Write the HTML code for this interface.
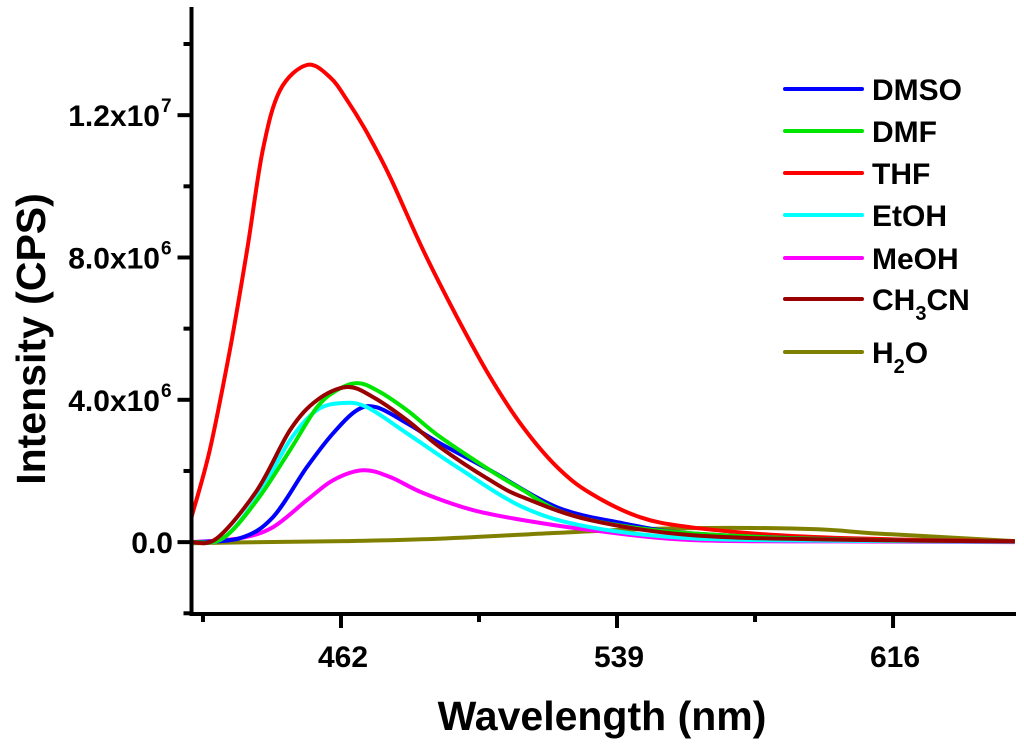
<!DOCTYPE html>
<html><head><meta charset="utf-8"><style>
html,body{margin:0;padding:0;background:#fff;}
svg text{font-family:"Liberation Sans",Arial,sans-serif;font-weight:bold;fill:#000;}
</style></head><body>
<svg id="chart" width="1024" height="742" viewBox="0 0 1024 742" xmlns="http://www.w3.org/2000/svg">
<g id="series"></g>
<g id="axes"></g>
<g id="legend"></g>
</svg>
<script>
const xTicks=[462,539,616];
const xMinorTicks=[423.5,500.5,577.5];
const yTicks=[0,4,8,12];
const yTickLabels=[["0.0",""],["4.0x10","6"],["8.0x10","6"],["1.2x10","7"]];
const yMinorTicks=[-2,2,6,10,14];
const seriesNames=["DMSO","DMF","THF","EtOH","MeOH","CH3CN","H2O"];
const seriesColors=["#0000ff","#00e600","#ff0000","#00ffff","#ff00ff","#990000","#808000"];
const dmsoX=[420,433.8,443.0,452.5,459.8,466.5,472.0,480.4,489.6,503.6,522.3,540.7,559.4,600,650];
const dmsoY=[0,0.11,0.70,2.11,3.06,3.71,3.79,3.34,2.78,2.02,0.98,0.53,0.25,0.08,0.02];
const dmfX=[420,429.1,438.6,447.8,455.3,460.9,466.5,472.0,480.4,489.6,503.6,512.8,522.3,536.2,559.4,600,650];
const dmfY=[0,0.11,1.18,2.59,3.79,4.27,4.47,4.27,3.71,2.96,2.02,1.46,0.90,0.53,0.25,0.08,0.02];
const thfX=[420,425.4,431.0,435.8,440.2,445.0,452.5,458.9,463.7,469.3,475.7,484.9,494.4,503.6,512.8,522.3,531.5,545.4,559.4,580,600,625,650];
const thfY=[0.70,2.59,5.40,8.21,11.02,12.70,13.41,13.07,12.42,11.50,10.26,8.21,6.32,4.64,3.23,2.11,1.38,0.70,0.42,0.22,0.12,0.06,0.03];
const etohX=[420,429.1,438.6,447.8,455.3,462.6,469.3,480.4,494.4,512.8,531.5,559.4,600,650];
const etohY=[0,0.11,1.26,2.87,3.71,3.91,3.79,3.06,2.11,0.98,0.42,0.11,0.04,0.01];
const meohX=[420,433.8,443.0,452.5,459.8,468.1,475.7,484.9,498.8,512.8,531.5,559.4,600,650];
const meohY=[0,0.11,0.42,1.18,1.74,2.02,1.83,1.38,0.90,0.62,0.34,0.06,0.02,0];
const mecnX=[420,427.4,438.6,447.8,455.3,463.7,470.9,480.4,489.6,503.6,512.8,531.5,559.4,600,650];
const mecnY=[0,0.11,1.46,3.15,3.99,4.36,4.08,3.43,2.67,1.74,1.26,0.62,0.20,0.07,0.02];
const waterX=[420,440,464,490,520,545,570,595,610,630,650];
const waterY=[-0.03,0,0.03,0.1,0.25,0.36,0.4,0.36,0.25,0.14,0.03];
const allX=[dmsoX,dmfX,thfX,etohX,meohX,mecnX,waterX];
const allY=[dmsoY,dmfY,thfY,etohY,meohY,mecnY,waterY];
const NS="http://www.w3.org/2000/svg";
const X0=191.5,X1=1016,Y0=7,Y1=614,xmin=420.3,xmax=650.3,ymin=-2.02,ymax=15.04;
function sx(v){return X0+(v-xmin)/(xmax-xmin)*(X1-X0);}
function sy(v){return Y1-(v-ymin)/(ymax-ymin)*(Y1-Y0);}
function mk(tag,attrs,parent){const e=document.createElementNS(NS,tag);for(const k in attrs)e.setAttribute(k,attrs[k]);parent.appendChild(e);return e;}
function pathFor(xs,ys){
  const p=xs.map((x,i)=>[Math.max(X0,Math.min(X1,sx(x))),sy(ys[i])]);
  let d="M"+p[0][0].toFixed(1)+","+p[0][1].toFixed(1);
  for(let i=0;i<p.length-1;i++){
    const a=p[Math.max(0,i-1)],b=p[i],c=p[i+1],e=p[Math.min(p.length-1,i+2)];
    const c1=[b[0]+(c[0]-a[0])/6,b[1]+(c[1]-a[1])/6],c2=[c[0]-(e[0]-b[0])/6,c[1]-(e[1]-b[1])/6];
    d+=" C"+c1[0].toFixed(1)+","+c1[1].toFixed(1)+" "+c2[0].toFixed(1)+","+c2[1].toFixed(1)+" "+c[0].toFixed(1)+","+c[1].toFixed(1);
  }
  return d;
}
const sg=document.getElementById('series');
const order=[6,2,4,0,3,1,5];
order.forEach(i=>{
  const el=mk('path',{d:pathFor(allX[i],allY[i]),fill:'none',stroke:seriesColors[i],'stroke-width':4,'stroke-linejoin':'round'},sg);
  
  
});
const ag=document.getElementById('axes');
let a1=mk('line',{x1:X0,y1:Y0,x2:X0,y2:Y1+2,stroke:'#000','stroke-width':4},ag);

let a2=mk('line',{x1:X0-2,y1:Y1,x2:X1,y2:Y1,stroke:'#000','stroke-width':4},ag);

xTicks.forEach(v=>{
  const t=mk('line',{x1:sx(v),y1:Y1,x2:sx(v),y2:Y1+14,stroke:'#000','stroke-width':4},ag);
  
  const l=mk('text',{x:sx(v)+2,y:667,'text-anchor':'middle','font-size':30},ag);l.textContent=v;
  
});
xMinorTicks.forEach(v=>{
  const t=mk('line',{x1:sx(v),y1:Y1,x2:sx(v),y2:Y1+8,stroke:'#000','stroke-width':4},ag);
  
});
yTicks.forEach((v,i)=>{
  const t=mk('line',{x1:X0-14,y1:sy(v),x2:X0,y2:sy(v),stroke:'#000','stroke-width':4},ag);
  
  const l=mk('text',{x:i===0?173:160,y:sy(v)+11,'text-anchor':'end','font-size':30},ag);
  l.textContent=yTickLabels[i][0];
  
  if(yTickLabels[i][1]){const s=mk('text',{x:161,y:sy(v)-3,'font-size':19},ag);s.textContent=yTickLabels[i][1];
    }
});
yMinorTicks.forEach(v=>{
  const t=mk('line',{x1:X0-8,y1:sy(v),x2:X0,y2:sy(v),stroke:'#000','stroke-width':4},ag);
  
});
const xt=mk('text',{x:602,y:730,'text-anchor':'middle','font-size':41},ag);xt.textContent='Wavelength (nm)';

const yt=mk('text',{x:0,y:0,'text-anchor':'middle','font-size':41,transform:'translate(45,339) rotate(-90)'},ag);yt.textContent='Intensity (CPS)';

const lg=document.getElementById('legend');
const rowsY=[89,131,173,215,258,299,352];
seriesNames.forEach((n,i)=>{
  const g=mk('g',{},lg);
  
  mk('line',{x1:785,y1:rowsY[i],x2:862,y2:rowsY[i],stroke:seriesColors[i],'stroke-width':4,'stroke-linecap':'round'},g);
  const t=mk('text',{x:872,y:rowsY[i]+11,'font-size':30},g);
  if(n==='CH3CN'){t.innerHTML='CH<tspan font-size="20" dy="10">3</tspan><tspan dy="-10">CN</tspan>';}
  else if(n==='H2O'){t.innerHTML='H<tspan font-size="20" dy="10">2</tspan><tspan dy="-10">O</tspan>';}
  else t.textContent=n;
});
</script>
</body></html>
